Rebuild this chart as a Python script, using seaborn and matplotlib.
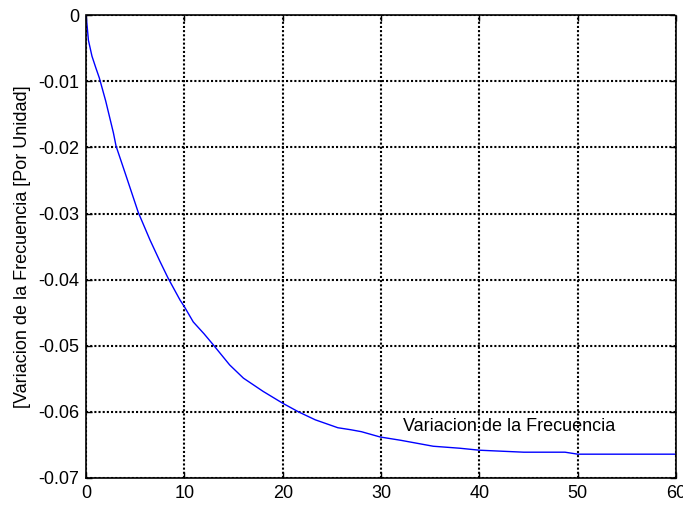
import matplotlib
matplotlib.use("Agg")
import matplotlib.pyplot as plt
import seaborn as sns
import pandas as pd

tiempo = [0, 0.1, 0.24, 0.6, 1.0, 1.35, 2.0, 2.78, 3.05, 4.0, 5.3, 6.5, 7.5, 8.35, 9.56, 10.0, 10.9,
          12.0, 12.9, 14.6, 16.0, 18.0, 20.0, 21.6, 23.3, 25.6, 26.9, 28.0, 29.9, 32.0, 35.3,
          38.0, 40.0, 44.5, 48.7, 50.0, 55.0, 60.0]
frecuencia = [0, -0.0015, -0.0038, -0.0062, -0.0080, -0.0095, -0.0130, -0.0178, -0.0198, -0.0240,
              -0.0298, -0.0340, -0.0372, -0.0398, -0.0431, -0.0441, -0.0464, -0.0482, -0.0498,
              -0.0529, -0.0549, -0.0569, -0.0587, -0.0600, -0.0612, -0.0624, -0.0627, -0.0630,
              -0.0638, -0.0643, -0.0652, -0.0655, -0.0658, -0.0661, -0.0661, -0.0664, -0.0664, -0.0664]

x_ticks = [0, 10, 20, 30, 40, 50, 60]
y_ticks = [0, -0.01, -0.02, -0.03, -0.04, -0.05, -0.06, -0.07]
y_labels = ["0", "-0.01", "-0.02", "-0.03", "-0.04", "-0.05", "-0.06", "-0.07"]

df = pd.DataFrame({"t": tiempo, "f": frecuencia})

sns.set_style("white")
plt.rcParams['font.family'] = ['Liberation Sans', 'DejaVu Sans']
plt.rcParams['text.color'] = 'black'
plt.rcParams['axes.labelcolor'] = 'black'

fig = plt.figure(figsize=(6.83, 5.05), dpi=100)
ax = fig.add_axes([0.126, 0.0535, 0.864, 0.9165])

sns.lineplot(data=df, x="t", y="f", ax=ax, color=(0, 0, 1), linewidth=1.0, sort=False)

ax.set_xlim(0, 60)
ax.set_ylim(-0.07, 0)
ax.set_xticks(x_ticks)
ax.set_xticklabels([str(v) for v in x_ticks])
ax.set_yticks(y_ticks)
ax.set_yticklabels(y_labels)
ax.grid(True, color="black", linestyle=(0, (1, 1)), linewidth=1.5)
ax.tick_params(direction="in", length=4, width=1, labelsize=13, colors="black",
               labelcolor="black", top=True, right=True, bottom=True, left=True)
ax.tick_params(axis="y", pad=5)
ax.tick_params(axis="x", pad=5)
for s in ax.spines.values():
    s.set_color("black")
    s.set_linewidth(1.2)
    s.set_linestyle((0, (1, 1)))

ax.set_xlabel("")
ax.set_ylabel("[Variacion de la Frecuencia [Por Unidad]", fontsize=13, labelpad=5, color="black")
ax.text(32.2, -0.0622, "Variacion de la Frecuencia", fontsize=13, ha="left", va="center",
        color="black")

fig.savefig("out.png", dpi=100)
